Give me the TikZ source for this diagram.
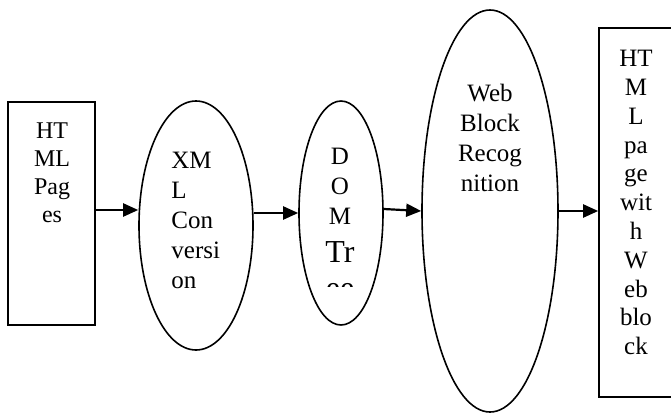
\documentclass[tikz,border=0pt]{standalone}
\usepackage{fontspec}
\setmainfont{Liberation Serif}
\usetikzlibrary{shapes.geometric,arrows.meta}
\tikzset{
  blockbox/.style={draw, line width=0.8pt, inner sep=0pt},
  blockell/.style={draw, ellipse, line width=0.8pt, inner sep=0pt},
  txt/.style={inner sep=0pt, align=center, anchor=north, font=\fontsize{12.5}{15}\selectfont},
  arr/.style={line width=1.1pt, -{Triangle[length=7.5pt,width=6.5pt]}}
}
\begin{document}
\begin{tikzpicture}[x=0.5pt,y=-0.5pt]
\useasboundingbox (0,0) rectangle (671,414);
\node[blockbox, minimum width=43.5pt, minimum height=111.5pt] (html) at (51.5,213.5) {};
\node[blockell, minimum width=57pt, minimum height=124.5pt] (xml) at (196,225.5) {};
\node[blockell, minimum width=42pt, minimum height=112pt] (dom) at (341,213) {};
\node[blockell, minimum width=68pt, minimum height=201pt] (web) at (490,211) {};
\node[blockbox, minimum width=37pt, minimum height=184.5pt] (out) at (636,212.5) {};

\node[txt, font=\fontsize{12}{14}\selectfont] (htmltxt) at (52,122) {HT\\ML\\Pag\\es};
\node[txt, anchor=north west, align=left] (xmltxt) at (171,152) {XM\\L\\Con\\versi\\on};
\node[txt] (domtxt) at (340,148) {D\\O\\M};
\begin{scope}
\clip (300,230) rectangle (383,286);
\node[txt, font=\fontsize{16}{18}\selectfont] (domtr) at (340,241) {Tr\\ee};
\end{scope}
\node[txt] (webtxt) at (490,84) {Web\\Block\\Recog\\nition};
\node[txt, font=\fontsize{12.5}{14.4}\selectfont] (outtxt) at (636,50) {HT\\M\\L\\pa\\ge\\wit\\h\\W\\eb\\blo\\ck};

\draw[arr] (html.east |- 0,210) -- (xml.west |- 0,210);
\draw[arr] (xml.east |- dom.west) -- (dom.west);
\draw[arr] ([yshift=2pt]dom.east) -- (web.west);
\draw[arr] (web.east) -- (out.west |- web.east);
\end{tikzpicture}
\end{document}
